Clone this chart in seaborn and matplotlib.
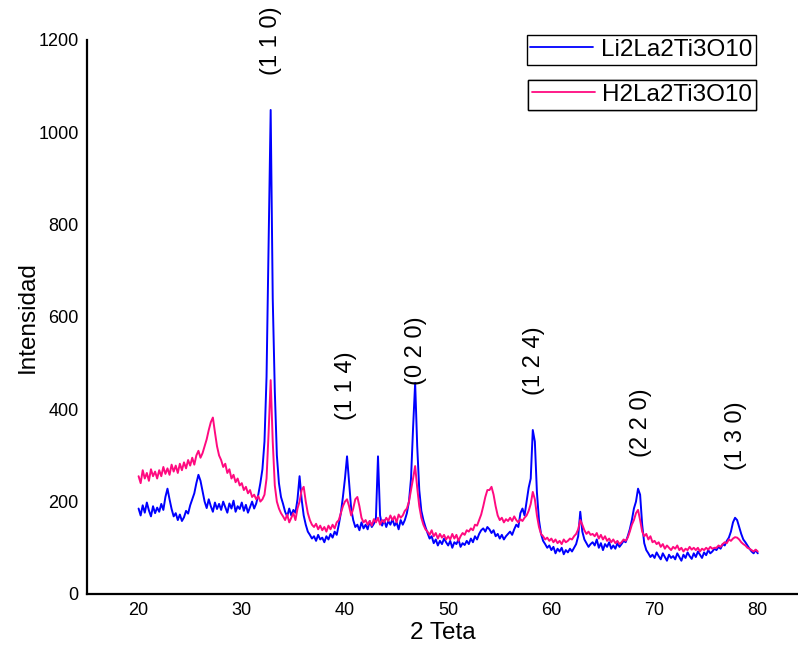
import numpy as np
import pandas as pd
import matplotlib
matplotlib.use("Agg")
import matplotlib.pyplot as plt
import seaborn as sns
from matplotlib.lines import Line2D

# 2-theta scan grid (degrees), 0.2 deg step from 20 to 80
two_theta = np.linspace(20.0, 80.0, 301)

# Li2La2Ti3O10 intensities (one row = 2 degrees)
li_intensity = [
    185, 170, 192, 176, 198, 181, 168, 190, 175, 187,
    178, 195, 182, 210, 228, 205, 184, 168, 175, 160,
    172, 158, 166, 180, 174, 192, 205, 218, 240, 258,
    245, 222, 200, 186, 205, 190, 178, 198, 184, 195,
    182, 200, 188, 176, 196, 185, 202, 178, 190, 184,
    198, 180, 193, 176, 188, 200, 185, 196, 215, 240,
    270, 330, 470, 760, 1048, 640, 440, 300, 240, 210,
    195, 178, 168, 185, 170, 182, 176, 205, 255, 205,
    170, 150, 135, 128, 120, 125, 115, 128, 118, 122,
    112, 125, 118, 130, 122, 135, 128, 150, 175, 210,
    250, 298, 240, 185, 160, 145, 150, 138, 155, 142,
    150, 140, 158, 145, 152, 165, 298, 170, 148, 160,
    145, 158, 150, 162, 148, 155, 140, 160, 150, 160,
    175, 200, 250, 360, 457, 320, 225, 180, 160, 145,
    132, 120, 125, 110, 118, 105, 115, 108, 120, 112,
    105, 115, 100, 112, 108, 118, 102, 110, 106, 115,
    108, 120, 112, 125, 118, 130, 138, 142, 135, 145,
    140, 132, 138, 125, 130, 120, 128, 118, 125, 130,
    135, 128, 140, 150, 145, 175, 185, 170, 200, 230,
    250, 355, 330, 220, 160, 130, 115, 108, 100, 105,
    95, 102, 88, 98, 92, 100, 86, 95, 90, 98,
    92, 100, 108, 125, 178, 135, 118, 110, 102, 108,
    112, 105, 118, 100, 110, 95, 108, 102, 112, 98,
    105, 98, 110, 102, 108, 115, 112, 125, 140, 160,
    185, 200, 228, 215, 150, 110, 95, 88, 80, 85,
    78, 90, 82, 75, 88, 80, 72, 85, 78, 82,
    75, 88, 80, 72, 85, 78, 90, 82, 76, 88,
    80, 92, 85, 78, 90, 84, 95, 88, 92, 98,
    95, 102, 98, 108, 105, 115, 122, 135, 155, 165,
    160, 145, 130, 118, 112, 105, 98, 92, 88, 95,
    88,
]

# H2La2Ti3O10 intensities (one row = 2 degrees)
h_intensity = [
    255, 240, 268, 250, 262, 245, 270, 255, 265, 250,
    268, 255, 275, 260, 272, 258, 280, 265, 278, 262,
    282, 268, 285, 272, 290, 278, 295, 280, 300, 310,
    295, 305, 320, 335, 355, 372, 382, 350, 320, 300,
    290, 275, 282, 262, 270, 250, 258, 242, 250, 235,
    240, 225, 232, 218, 225, 210, 215, 205, 212, 200,
    205, 215, 250, 350, 463, 330, 235, 200, 185, 175,
    168, 160, 172, 155, 165, 175, 160, 185, 200, 225,
    232, 200, 175, 160, 150, 145, 152, 140, 148, 138,
    145, 135, 148, 140, 150, 142, 155, 160, 175, 190,
    200, 205, 190, 170, 185, 205, 210, 190, 165, 155,
    160, 150, 158, 148, 162, 155, 165, 150, 160, 155,
    165, 158, 170, 160, 168, 155, 172, 165, 170, 180,
    185, 200, 225, 250, 277, 230, 190, 165, 150, 140,
    135, 128, 138, 125, 132, 120, 130, 122, 128, 118,
    125, 118, 130, 120, 128, 115, 125, 132, 128, 138,
    135, 142, 138, 150, 148, 160, 172, 190, 210, 225,
    225, 232, 215, 190, 170, 160, 165, 155, 162, 158,
    165, 158, 168, 160, 155, 162, 158, 165, 170, 180,
    195, 221, 205, 170, 145, 130, 125, 118, 122, 115,
    120, 112, 118, 110, 115, 108, 118, 112, 115, 120,
    118, 125, 130, 140, 160, 150, 138, 130, 135, 128,
    130, 125, 132, 120, 128, 118, 125, 115, 120, 112,
    118, 110, 115, 108, 112, 118, 115, 122, 135, 150,
    160, 175, 182, 160, 135, 125, 130, 118, 125, 112,
    115, 108, 112, 102, 108, 98, 105, 100, 95, 102,
    98, 105, 95, 100, 92, 98, 95, 102, 96, 100,
    95, 100, 92, 98, 95, 100, 96, 102, 98, 100,
    100, 105, 102, 108, 112, 110, 118, 115, 120, 123,
    122, 118, 112, 108, 105, 100, 98, 95, 92, 96,
    92,
]

series_names = ["Li2La2Ti3O10", "H2La2Ti3O10"]

# Miller indices of the indexed reflections and where their labels sit
hkl_labels = ["(1 1 0)", "(1 1 4)", "(0 2 0)", "(1 2 4)", "(2 2 0)", "(1 3 0)"]
hkl_positions = [32.8, 40.1, 46.9, 58.3, 68.7, 77.9]
hkl_label_heights = [1124, 377, 453, 431, 297, 269]

x_ticks = [20, 30, 40, 50, 60, 70, 80]
y_ticks = [0, 200, 400, 600, 800, 1000, 1200]

colors = {"Li2La2Ti3O10": "#0000ff", "H2La2Ti3O10": "#ff0a80"}

df = pd.DataFrame({
    "two_theta": np.concatenate([two_theta, two_theta]),
    "intensity": np.concatenate([li_intensity, h_intensity]),
    "sample": [series_names[0]] * len(two_theta) + [series_names[1]] * len(two_theta),
})

sns.set_style("white")
plt.rcParams["font.family"] = ["Liberation Sans", "DejaVu Sans"]
plt.rcParams["text.color"] = "black"
plt.rcParams["axes.labelcolor"] = "black"
plt.rcParams["xtick.color"] = "black"
plt.rcParams["ytick.color"] = "black"

fig = plt.figure(figsize=(7.98, 6.52), dpi=100)
ax = fig.add_axes([0.109, 0.089, 0.891, 0.850])

for name in series_names:
    sub = df[df["sample"] == name]
    sns.lineplot(data=sub, x="two_theta", y="intensity", ax=ax,
                 color=colors[name], lw=1.4, estimator=None, sort=False,
                 legend=False)

for lab, xp, yp in zip(hkl_labels, hkl_positions, hkl_label_heights):
    ax.text(xp, yp, lab, rotation=90, ha="center", va="bottom",
            fontsize=17, color="black")

ax.set_xlim(15, 83.9)
ax.set_ylim(0, 1200)
ax.set_xticks(x_ticks)
ax.set_yticks(y_ticks)
ax.set_xticks([25, 35, 45, 55, 65, 75], minor=True)
ax.tick_params(axis="both", which="major", length=0, labelsize=13, pad=6,
               labelcolor="black")
ax.tick_params(axis="x", which="minor", length=3, direction="in", width=0.8,
               color="#555555")
ax.set_xlabel("2 Teta", fontsize=17.5, labelpad=2, color="black")
ax.set_ylabel("Intensidad", fontsize=17.5, labelpad=0, color="black")

for side in ["top", "right"]:
    ax.spines[side].set_visible(False)
for side in ["left", "bottom"]:
    ax.spines[side].set_color("black")
    ax.spines[side].set_linewidth(1.6)

# one framed legend box per sample
legend_tops = [0.946, 0.877]
for name, top in zip(series_names, legend_tops):
    handle = Line2D([], [], color=colors[name], lw=1.3)
    leg = ax.legend([handle], [name], loc="upper right",
                    bbox_to_anchor=(0.947, top), bbox_transform=fig.transFigure,
                    fontsize=17.5, frameon=True, fancybox=False, framealpha=1,
                    edgecolor="black", borderpad=0.15, handlelength=2.6,
                    handletextpad=0.3, borderaxespad=0)
    leg.get_frame().set_linewidth(1.0)
    for t in leg.get_texts():
        t.set_color("black")
    ax.add_artist(leg)

fig.savefig("out.png", dpi=100)
